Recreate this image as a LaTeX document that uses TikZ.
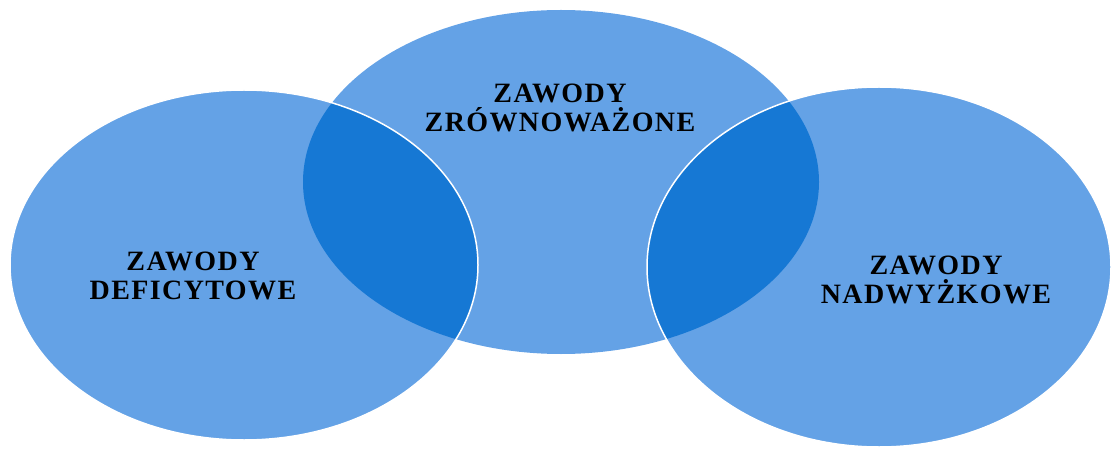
\documentclass[tikz,border=0pt]{standalone}
\usepackage{fontspec}
\setmainfont{Liberation Serif}
\definecolor{lightblue}{RGB}{100,162,230}
\definecolor{darkblue}{RGB}{22,120,212}
\begin{document}
\begin{tikzpicture}[x=1pt,y=-1pt,
  lbl/.style={font=\fontsize{28}{29}\selectfont\bfseries\addfontfeature{LetterSpace=5}, align=center, text=black, inner sep=0pt},
  edge/.style={white, line width=1.5pt}]
\useasboundingbox (0,0) rectangle (1111,449);
% light fills
\fill[lightblue] (561,182) ellipse [x radius=258pt, y radius=172pt];
\fill[lightblue] (244,265) ellipse [x radius=234pt, y radius=175pt];
\fill[lightblue] (879,267) ellipse [x radius=232pt, y radius=180pt];
% dark overlaps
\begin{scope}
  \clip (561,182) ellipse [x radius=258pt, y radius=172pt];
  \fill[darkblue] (244,265) ellipse [x radius=234pt, y radius=175pt];
  \fill[darkblue] (879,267) ellipse [x radius=232pt, y radius=180pt];
\end{scope}
% thin white outlines
\draw[edge] (244,265) ellipse [x radius=234pt, y radius=175pt];
\draw[edge] (879,267) ellipse [x radius=232pt, y radius=180pt];
% labels
\node[lbl] (zrown) at (560,108) {ZAWODY\\ZRÓWNOWAŻONE};
\node[lbl] (defic) at (193,276) {ZAWODY\\DEFICYTOWE};
\node[lbl] (nadw) at (936,280) {ZAWODY\\NADWYŻKOWE};
\end{tikzpicture}
\end{document}
